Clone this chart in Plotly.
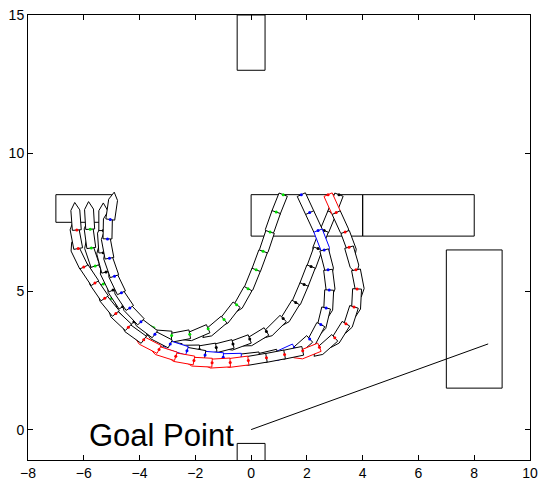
import numpy as np
import plotly.graph_objects as go

# ---- data: obstacles (x0, y0, x1, y1) ----
obst_x0 = [-7.0, 0.0, 4.0, 7.0, -0.5, -0.5]
obst_y0 = [7.5, 7.0, 7.0, 1.5, 13.0, -1.5]
obst_x1 = [-5.0, 4.0, 8.0, 9.0, 0.5, 0.5]
obst_y1 = [8.5, 8.5, 8.5, 6.5, 15.0, -0.5]

# goal pointer line
goal_line_x = [0.0, 8.5]
goal_line_y = [0.0, 3.1]
goal_label = "Goal Point"

# ---- data: vehicle rear positions along each path (in travel order) ----
path_g_x = [1.15, 0.9, 0.68, 0.43, 0.18, -0.11, -0.52, -0.97, -1.54, -2.2, -2.85, -3.5, -4.1, -4.6, -5.0, -5.3, -5.59, -5.73, -5.77]
path_g_y = [8.5, 7.87, 7.15, 6.45, 5.78, 5.1, 4.52, 3.98, 3.65, 3.45, 3.4, 3.55, 3.85, 4.3, 4.75, 5.27, 5.92, 6.57, 7.25]

path_k_x = [3.15, 2.9, 2.62, 2.4, 2.15, 1.9, 1.6, 1.15, 0.55, -0.05, -0.65, -1.25, -1.85, -2.5, -3.1, -3.7, -4.2, -4.6, -4.95, -5.2, -5.3, -5.3]
path_k_y = [8.5, 7.85, 7.2, 6.55, 5.9, 5.25, 4.6, 4.02, 3.55, 3.28, 3.1, 2.97, 2.9, 2.95, 3.12, 3.45, 3.9, 4.45, 5.05, 5.7, 6.4, 7.2]

path_b_x = [1.8, 2.1, 2.4, 2.62, 2.76, 2.8, 2.69, 2.5, 2.1, 1.55, 0.95, 0.3, -0.35, -1.0, -1.65, -2.3, -2.9, -3.45, -3.95, -4.35, -4.65, -4.9, -5.08, -5.15, -5.05]
path_b_y = [8.5, 7.85, 7.2, 6.5, 5.78, 5.05, 4.4, 3.8, 3.28, 2.95, 2.75, 2.65, 2.6, 2.62, 2.7, 2.85, 3.1, 3.45, 3.9, 4.4, 4.95, 5.55, 6.2, 6.9, 7.6]

path_r_x = [2.76, 3.05, 3.37, 3.51, 3.76, 3.8, 3.69, 3.4, 3.0, 2.45, 1.85, 1.2, 0.55, -0.1, -0.75, -1.4, -2.05, -2.7, -3.3, -3.85, -4.4, -4.85, -5.25, -5.6, -6.0, -6.2, -6.25]
path_r_y = [8.5, 7.85, 7.15, 6.6, 5.78, 5.09, 4.44, 3.83, 3.32, 2.98, 2.85, 2.72, 2.6, 2.5, 2.43, 2.42, 2.5, 2.65, 2.9, 3.25, 3.7, 4.2, 4.75, 5.3, 5.88, 6.55, 7.22]

# indices of vehicles drawn with a coloured outline
path_g_hi = [11, 13]
path_k_hi = []
path_b_hi = [2, 9, 12, 13, 15]
path_r_hi = [0, 9, 13, 14, 15, 16, 17, 18]

paths = [
    (path_g_x, path_g_y, path_g_hi, "#00dd00"),
    (path_k_x, path_k_y, path_k_hi, "black"),
    (path_b_x, path_b_y, path_b_hi, "#0000ff"),
    (path_r_x, path_r_y, path_r_hi, "#ff0000"),
]

CAR_LEN = 1.0
BODY_LEN = 0.72
CAR_W = 0.32

fig = go.Figure()

# obstacles
for x0, y0, x1, y1 in zip(obst_x0, obst_y0, obst_x1, obst_y1):
    fig.add_trace(go.Scatter(x=[x0, x1, x1, x0, x0], y=[y0, y0, y1, y1, y0],
                             mode="lines", line=dict(color="black", width=1),
                             hoverinfo="skip", showlegend=False))

# goal pointer line
fig.add_trace(go.Scatter(x=goal_line_x, y=goal_line_y, mode="lines",
                         line=dict(color="black", width=1), showlegend=False))


def car_outline(px, py, ux, uy):
    nx, ny = -uy, ux
    hw = CAR_W / 2
    pts = [
        (px + nx * hw, py + ny * hw),
        (px + ux * BODY_LEN + nx * hw, py + uy * BODY_LEN + ny * hw),
        (px + ux * CAR_LEN, py + uy * CAR_LEN),
        (px + ux * BODY_LEN - nx * hw, py + uy * BODY_LEN - ny * hw),
        (px - nx * hw, py - ny * hw),
    ]
    pts.append(pts[0])
    return [p[0] for p in pts], [p[1] for p in pts]


for xs, ys, hi, col in paths:
    xs = np.asarray(xs, float)
    ys = np.asarray(ys, float)
    n = len(xs)
    for i in range(n):
        a = max(i - 1, 0)
        b = min(i + 1, n - 1)
        dx, dy = xs[b] - xs[a], ys[b] - ys[a]
        d = np.hypot(dx, dy)
        ux, uy = dx / d, dy / d
        cx, cy = car_outline(xs[i], ys[i], ux, uy)
        fig.add_trace(go.Scatter(x=cx, y=cy, mode="lines", fill="toself",
                                 fillcolor="white",
                                 line=dict(color=col if i in hi else "black", width=1),
                                 hoverinfo="skip", showlegend=False))
    fig.add_trace(go.Scatter(x=xs, y=ys, mode="markers",
                             marker=dict(color=col, size=3),
                             hoverinfo="skip", showlegend=False))

fig.add_annotation(x=-5.8, y=-0.22, text=goal_label, showarrow=False,
                   xanchor="left", yanchor="middle", xshift=-2,
                   font=dict(family="Liberation Sans, Arial, sans-serif", size=31, color="black"))

axis_common = dict(showgrid=False, zeroline=False, showline=True, linecolor="black",
                   linewidth=1, mirror="ticks", ticks="inside", ticklen=5,
                   tickcolor="black", tickfont=dict(size=14, color="black"),
                   automargin=False)

fig.update_layout(
    width=542, height=486, autosize=False,
    margin=dict(l=28, r=12, t=15, b=26),
    plot_bgcolor="white", paper_bgcolor="white",
    font=dict(family="Liberation Sans, Arial, sans-serif", color="black"),
    xaxis=dict(range=[-8, 10], tickvals=[-8, -6, -4, -2, 0, 2, 4, 6, 8, 10], **axis_common),
    yaxis=dict(range=[-1.1, 15], tickvals=[0, 5, 10, 15], **axis_common),
    showlegend=False,
)

fix_page = (
    "document.body.style.margin='0';"
    "document.body.style.padding='0';"
    "document.body.style.overflow='hidden';"
    "var gd=document.getElementById('{plot_id}');"
    "Plotly.relayout(gd,{width:542,height:486});"
)

fig.write_html("out.html", post_script=fix_page,
               config={"responsive": False, "displayModeBar": False})
